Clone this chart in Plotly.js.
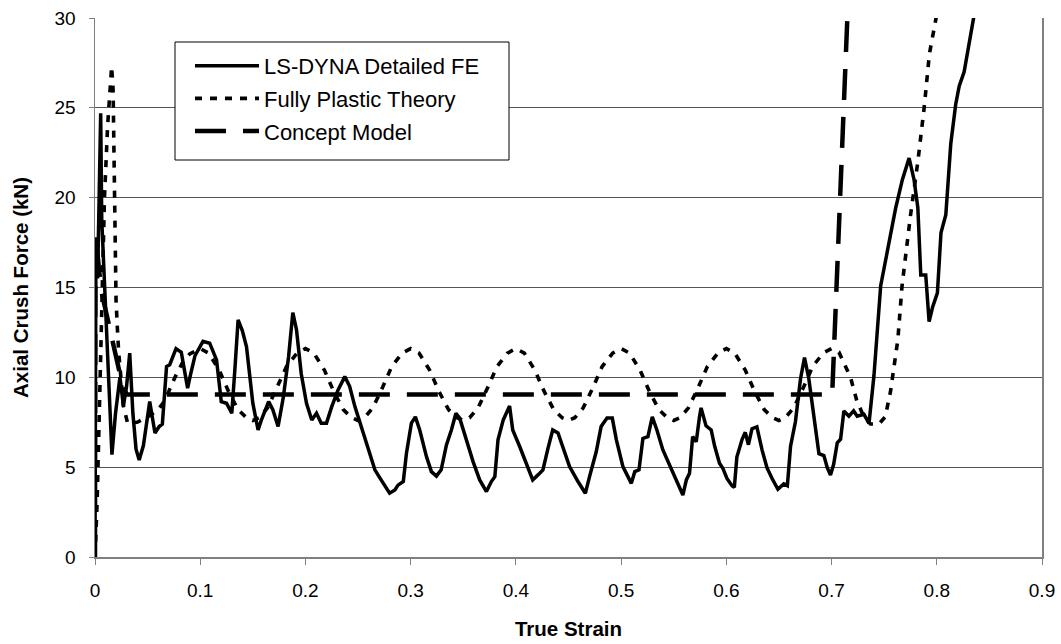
<!DOCTYPE html>
<html>
<head>
<meta charset="utf-8">
<script src="https://cdn.plot.ly/plotly-3.0.1.min.js"></script>
<style>html,body{margin:0;padding:0;background:#fff;}#chart{width:1061px;height:644px;}</style>
</head>
<body>
<div id="chart"></div>
<script>
// ---- Data ----
const seriesNames = ["LS-DYNA Detailed FE", "Fully Plastic Theory", "Concept Model"];

const lsdynaStrain = [0, 0.0005, 0.0009, 0.0025, 0.0054, 0.0064, 0.0095, 0.0125, 0.0161, 0.0195, 0.0237, 0.027, 0.030, 0.033, 0.036, 0.039, 0.042, 0.046, 0.049, 0.052, 0.055, 0.057, 0.061, 0.064, 0.068, 0.071, 0.077, 0.082, 0.085, 0.088, 0.091, 0.095, 0.1026, 0.109, 0.1155, 0.120, 0.125, 0.130, 0.133, 0.136, 0.140, 0.144, 0.150, 0.155, 0.158, 0.165, 0.169, 0.174, 0.179, 0.184, 0.188, 0.1915, 0.196, 0.201, 0.206, 0.2105, 0.215, 0.220, 0.225, 0.231, 0.2374, 0.242, 0.247, 0.253, 0.2595, 0.266, 0.2707, 0.280, 0.285, 0.288, 0.293, 0.296, 0.3007, 0.3045, 0.3086, 0.315, 0.3197, 0.3245, 0.329, 0.334, 0.3387, 0.343, 0.3466, 0.353, 0.3593, 0.3656, 0.372, 0.3767, 0.380, 0.383, 0.388, 0.394, 0.397, 0.4036, 0.410, 0.416, 0.421, 0.4257, 0.4305, 0.435, 0.440, 0.4447, 0.451, 0.459, 0.466, 0.470, 0.4764, 0.481, 0.4866, 0.4916, 0.4955, 0.5017, 0.5097, 0.513, 0.517, 0.5207, 0.5255, 0.5296, 0.534, 0.5397, 0.546, 0.5524, 0.5587, 0.562, 0.565, 0.568, 0.5714, 0.5745, 0.576, 0.5807, 0.5856, 0.589, 0.5935, 0.5967, 0.6006, 0.6054, 0.6076, 0.610, 0.615, 0.618, 0.621, 0.6244, 0.629, 0.634, 0.6387, 0.6435, 0.649, 0.6546, 0.658, 0.661, 0.6657, 0.6705, 0.6743, 0.6784, 0.683, 0.688, 0.6927, 0.696, 0.699, 0.702, 0.7054, 0.7086, 0.7117, 0.7165, 0.721, 0.7244, 0.7308, 0.7356, 0.7403, 0.7467, 0.750, 0.756, 0.761, 0.7673, 0.7737, 0.7784, 0.782, 0.7848, 0.7895, 0.7927, 0.796, 0.8006, 0.804, 0.8086, 0.8133, 0.818, 0.8213, 0.826, 0.829, 0.8324, 0.8356, 0.840];
const lsdynaForce = [0, 9, 17.8, 15.5, 24.7, 18.8, 14.5, 10.0, 5.7, 8.0, 10.0, 8.4, 9.5, 11.35, 8.0, 6.0, 5.4, 6.2, 7.6, 8.65, 7.6, 6.9, 7.26, 7.4, 10.6, 10.7, 11.6, 11.4, 10.4, 9.4, 10.2, 11.2, 12.0, 11.9, 10.97, 8.65, 8.56, 8.0, 10.5, 13.2, 12.6, 11.7, 8.56, 7.07, 7.6, 8.65, 8.2, 7.26, 8.9, 11.16, 13.6, 12.65, 10.2, 8.56, 7.63, 8.0, 7.45, 7.45, 8.37, 9.3, 10.04, 9.5, 8.37, 7.26, 5.96, 4.85, 4.4, 3.55, 3.73, 4.0, 4.2, 5.78, 7.45, 7.8, 7.07, 5.59, 4.75, 4.5, 4.85, 6.24, 7.07, 8.0, 7.73, 6.52, 5.31, 4.29, 3.64, 4.2, 4.47, 6.52, 7.63, 8.4, 7.07, 6.15, 5.13, 4.29, 4.57, 4.85, 6.05, 7.07, 6.9, 6.15, 5.03, 4.2, 3.55, 4.47, 5.87, 7.26, 7.73, 7.73, 6.52, 5.03, 4.1, 4.75, 4.85, 6.6, 6.7, 7.8, 7.07, 5.96, 5.13, 4.29, 3.45, 4.29, 4.66, 6.7, 6.42, 7.8, 8.3, 7.3, 7.07, 6.15, 5.22, 4.94, 4.37, 3.97, 3.87, 5.56, 6.55, 6.94, 6.25, 7.14, 7.24, 5.95, 4.96, 4.37, 3.77, 4.07, 3.97, 6.15, 7.54, 9.92, 11.1, 9.92, 7.94, 5.75, 5.65, 4.96, 4.56, 5.16, 6.35, 6.55, 8.13, 7.84, 8.13, 7.84, 7.94, 7.44, 10.1, 15.1, 16.1, 17.86, 19.44, 21.0, 22.2, 21.0, 19.44, 15.7, 15.7, 13.1, 13.9, 14.7, 18.05, 19.05, 23.0, 25.2, 26.2, 27.0, 28.0, 29.4, 30.2, 31.0];

const plasticStrain = [0, 0.002, 0.0045, 0.0065, 0.009, 0.012, 0.0145, 0.0158, 0.0172, 0.018, 0.019, 0.020, 0.0212, 0.0225, 0.027, 0.031, 0.040, 0.050, 0.060, 0.065, 0.070, 0.076, 0.083, 0.090,
  0.100, 0.108, 0.118, 0.127, 0.136, 0.144, 0.150, 0.156, 0.164, 0.173, 0.182, 0.192,
  0.200, 0.208, 0.218, 0.227, 0.236, 0.244, 0.250, 0.256, 0.264, 0.273, 0.282, 0.292,
  0.300, 0.308, 0.318, 0.327, 0.336, 0.344, 0.350, 0.356, 0.364, 0.373, 0.382, 0.392,
  0.400, 0.408, 0.418, 0.427, 0.436, 0.444, 0.450, 0.456, 0.464, 0.473, 0.482, 0.492,
  0.500, 0.508, 0.518, 0.527, 0.536, 0.544, 0.550, 0.556, 0.564, 0.573, 0.582, 0.592,
  0.600, 0.608, 0.618, 0.627, 0.636, 0.644, 0.650, 0.656, 0.664, 0.673, 0.682, 0.692,
  0.700, 0.707, 0.718, 0.724, 0.730, 0.737, 0.745, 0.751, 0.756, 0.763, 0.767, 0.775, 0.782, 0.788, 0.793, 0.799, 0.801];
const plasticForce = [0, 3, 9, 15, 20, 24, 26.6, 27.3, 26.0, 22.5, 17.5, 14.3, 12.8, 11.4, 8.4, 7.45, 7.5, 7.8, 8.2, 8.6, 9.2, 10.0, 10.8, 11.3,
  11.6, 11.35, 10.4, 9.2, 8.2, 7.75, 7.6, 7.75, 8.3, 9.4, 10.6, 11.35,
  11.6, 11.35, 10.4, 9.2, 8.2, 7.75, 7.6, 7.75, 8.3, 9.4, 10.6, 11.35,
  11.6, 11.35, 10.4, 9.2, 8.2, 7.75, 7.6, 7.75, 8.3, 9.4, 10.6, 11.35,
  11.6, 11.35, 10.4, 9.2, 8.2, 7.75, 7.6, 7.75, 8.3, 9.4, 10.6, 11.35,
  11.6, 11.35, 10.4, 9.2, 8.2, 7.75, 7.6, 7.75, 8.3, 9.4, 10.6, 11.35,
  11.6, 11.35, 10.4, 9.2, 8.2, 7.75, 7.6, 7.75, 8.3, 9.4, 10.6, 11.35,
  11.6, 11.4, 10.0, 8.7, 7.9, 7.4, 7.4, 7.8, 9.2, 12.1, 15.1, 19.0, 22.0, 25.0, 28.0, 29.9, 30.5];

const conceptStrain = [0, 0.0003, 0.006, 0.012, 0.020, 0.026, 0.030, 0.7006, 0.715];
const conceptForce  = [0, 18.0, 14.8, 13.2, 11.2, 9.6, 9.05, 9.05, 30.0];

const xTicks = [0, 0.1, 0.2, 0.3, 0.4, 0.5, 0.6, 0.7, 0.8, 0.9];
const xTickLabels = ["0", "0.1", "0.2", "0.3", "0.4", "0.5", "0.6", "0.7", "0.8", "0.9"];
const yTicks = [0, 5, 10, 15, 20, 25, 30];
const yTickLabels = ["0", "5", "10", "15", "20", "25", "30"];

// ---- Chart ----
const FONT = "Liberation Sans, Arial, sans-serif";

const traces = [
  {x: conceptStrain, y: conceptForce, name: seriesNames[2], mode: "lines", legendgroup: "c", legendrank: 3,
   line: {color: "#000", width: 4.5, dash: "31px,17px"}},
  {x: plasticStrain, y: plasticForce, name: seriesNames[1], mode: "lines", legendgroup: "b", legendrank: 2,
   line: {color: "#000", width: 3.6, dash: "7px,8px"}},
  {x: lsdynaStrain, y: lsdynaForce, name: seriesNames[0], mode: "lines", legendgroup: "a", legendrank: 1,
   line: {color: "#000", width: 3.5}}
];

const layout = {
  width: 1061, height: 644,
  margin: {l: 95, r: 19, t: 18, b: 87, pad: 0},
  paper_bgcolor: "#fff", plot_bgcolor: "#fff",
  font: {family: FONT, color: "#000", size: 18},
  showlegend: true,
  legend: {
    x: (190 - 95) / 947, y: 0.95, xanchor: "left", yanchor: "top",
    bgcolor: "rgba(0,0,0,0)", borderwidth: 0,
    font: {family: FONT, size: 22, color: "#000"},
    traceorder: "grouped", tracegroupgap: 1, itemwidth: 64
  },
  shapes: [{
    type: "rect", xref: "paper", yref: "paper", layer: "above",
    x0: (175 - 95) / 947, x1: (509 - 95) / 947,
    y0: (557 - 160) / 539, y1: (557 - 42) / 539,
    line: {color: "#000", width: 1}, fillcolor: "#fff"
  }],
  xaxis: {
    range: [0, 0.9], tickmode: "array", tickvals: xTicks, ticktext: xTickLabels,
    showgrid: false, zeroline: false,
    showline: true, linecolor: "#808080", linewidth: 1.5,
    ticks: "outside", ticklen: 6, tickcolor: "#808080", tickwidth: 1,
    ticklabelstandoff: 10,
    tickfont: {family: FONT, size: 19, color: "#000"},
    title: {text: "True Strain", font: {family: FONT, size: 20.5, color: "#000", weight: "bold"}, standoff: 21}
  },
  yaxis: {
    range: [0, 30], tickmode: "array", tickvals: yTicks, ticktext: yTickLabels,
    showgrid: true, gridcolor: "#555", gridwidth: 1, zeroline: false,
    showline: true, mirror: true, linecolor: "#808080", linewidth: 1.5,
    ticks: "outside", ticklen: 5, tickcolor: "#808080", tickwidth: 1,
    ticklabelstandoff: 9,
    tickfont: {family: FONT, size: 19, color: "#000"},
    title: {text: "Axial Crush Force (kN)", font: {family: FONT, size: 20.5, color: "#000", weight: "bold"}, standoff: 20}
  }
};

Plotly.newPlot("chart", traces, layout, {displayModeBar: false, staticPlot: true});
</script>
</body>
</html>
